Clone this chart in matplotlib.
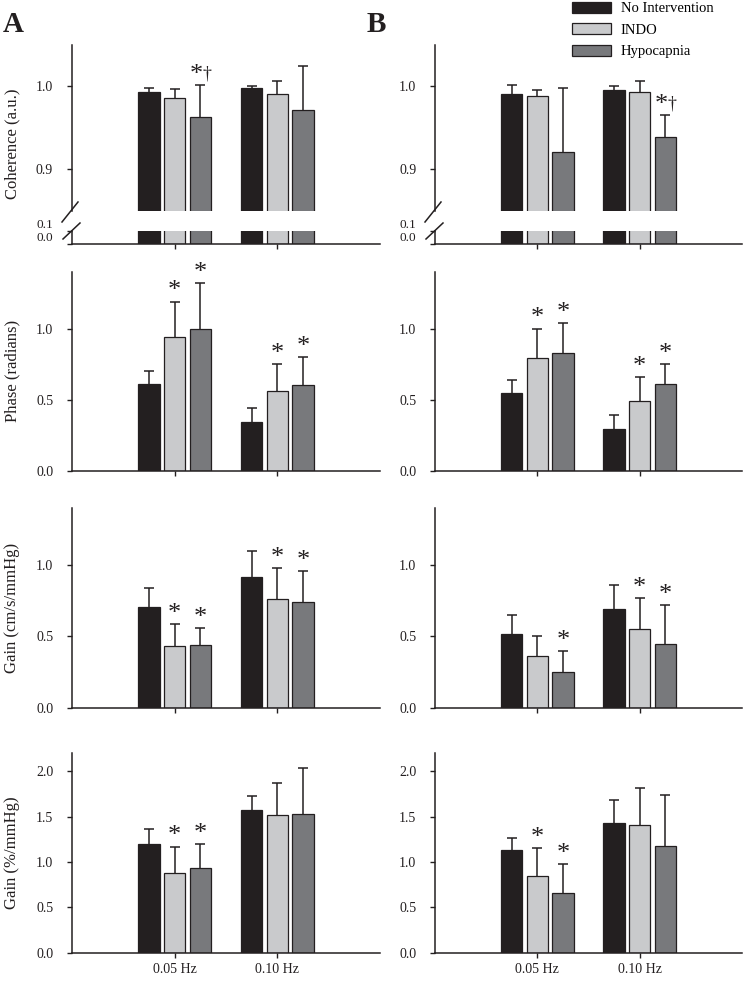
import matplotlib
matplotlib.use("Agg")
import matplotlib.pyplot as plt
from matplotlib.lines import Line2D
from matplotlib.patches import Patch

plt.rcParams['font.family'] = ['Liberation Serif', 'DejaVu Serif']

W, H = 745, 983

conditions = ["No Intervention", "INDO", "Hypocapnia"]
frequencies = ["0.05 Hz", "0.10 Hz"]
bar_colors = ["#231f20", "#c9cacc", "#78797c"]
edge = "#231f20"

# rows = condition, cols = frequency (0.05, 0.10)
coh_a_mean = [[0.993, 0.997], [0.985, 0.990], [0.963, 0.971]]
coh_a_sd = [[0.004, 0.003], [0.011, 0.016], [0.038, 0.053]]
coh_a_marks = [["", ""], ["", ""], ["*\u2020", ""]]

coh_b_mean = [[0.990, 0.995], [0.988, 0.993], [0.920, 0.938]]
coh_b_sd = [[0.011, 0.005], [0.007, 0.013], [0.077, 0.027]]
coh_b_marks = [["", ""], ["", ""], ["", "*\u2020"]]

phase_a_mean = [[0.61, 0.34], [0.94, 0.56], [1.00, 0.60]]
phase_a_sd = [[0.09, 0.10], [0.25, 0.19], [0.32, 0.20]]
phase_a_marks = [["", ""], ["*", "*"], ["*", "*"]]

phase_b_mean = [[0.55, 0.29], [0.79, 0.49], [0.83, 0.61]]
phase_b_sd = [[0.09, 0.10], [0.21, 0.17], [0.21, 0.14]]
phase_b_marks = [["", ""], ["*", "*"], ["*", "*"]]

gain_a_mean = [[0.71, 0.92], [0.43, 0.76], [0.44, 0.74]]
gain_a_sd = [[0.13, 0.18], [0.16, 0.22], [0.12, 0.22]]
gain_a_marks = [["", ""], ["*", "*"], ["*", "*"]]

gain_b_mean = [[0.52, 0.69], [0.36, 0.55], [0.25, 0.45]]
gain_b_sd = [[0.13, 0.17], [0.14, 0.22], [0.15, 0.27]]
gain_b_marks = [["", ""], ["", "*"], ["*", "*"]]

ngain_a_mean = [[1.20, 1.57], [0.88, 1.52], [0.94, 1.53]]
ngain_a_sd = [[0.16, 0.16], [0.29, 0.35], [0.26, 0.51]]
ngain_a_marks = [["", ""], ["*", ""], ["*", ""]]

ngain_b_mean = [[1.13, 1.43], [0.85, 1.41], [0.66, 1.18]]
ngain_b_sd = [[0.14, 0.26], [0.30, 0.41], [0.32, 0.56]]
ngain_b_marks = [["", ""], ["*", ""], ["*", ""]]


def box(x0, x1, y0, y1):
    """pixel box (y from top) -> figure fraction rect"""
    return [x0 / W, 1 - y1 / H, (x1 - x0) / W, (y1 - y0) / H]


def style_ax(ax, bottom=True):
    for s in ['top', 'right']:
        ax.spines[s].set_visible(False)
    ax.spines['left'].set_linewidth(1.1)
    ax.spines['left'].set_color(edge)
    ax.spines['bottom'].set_linewidth(1.1)
    ax.spines['bottom'].set_color(edge)
    ax.tick_params(axis='y', direction='out', length=3.5, width=1, pad=10,
                   labelsize=10, colors=edge)
    ax.tick_params(axis='x', direction='out', length=3.5, width=1, pad=4,
                   labelsize=10, colors=edge)
    ax.set_xlim(-1, 2)
    ax.set_xticks(range(len(frequencies)))
    ax.set_xticklabels([])
    if not bottom:
        ax.spines['bottom'].set_visible(False)
        ax.tick_params(axis='x', length=0)


def put_mark(ax, x, y, t):
    kw = dict(textcoords='offset points', ha='center', va='baseline',
              color=edge, annotation_clip=False)
    if "\u2020" in t:
        ax.annotate("*", (x, y), xytext=(-3, 3), fontsize=19, **kw)
        ax.annotate("\u2020", (x, y), xytext=(4.5, 5), fontsize=13, **kw)
    else:
        ax.annotate(t, (x, y), xytext=(0, 3), fontsize=19, **kw)


def draw_bars(ax, means, sds, marks=None, offset=0.25, width=0.21):
    xs = list(range(len(frequencies)))
    for i, cond in enumerate(conditions):
        pos = [x + (i - 1) * offset for x in xs]
        ax.bar(pos, means[i], width=width, color=bar_colors[i], edgecolor=edge,
               linewidth=0.9, zorder=2)
        eb = ax.errorbar(pos, means[i], yerr=[[0] * len(xs), sds[i]], fmt='none',
                         ecolor=edge, elinewidth=1.1, capsize=3.5, capthick=1.1, zorder=1)
        eb[1][0].set_visible(False)  # no cap at the bar top
        if marks is None:
            continue
        for p, m, s, t in zip(pos, means[i], sds[i], marks[i]):
            if t:
                put_mark(ax, p, m + s, t)


fig = plt.figure(figsize=(W / 100, H / 100), dpi=100)

cols = [(72, 380, coh_a_mean, coh_a_sd, coh_a_marks, phase_a_mean, phase_a_sd, phase_a_marks,
         gain_a_mean, gain_a_sd, gain_a_marks, ngain_a_mean, ngain_a_sd, ngain_a_marks),
        (435, 742, coh_b_mean, coh_b_sd, coh_b_marks, phase_b_mean, phase_b_sd, phase_b_marks,
         gain_b_mean, gain_b_sd, gain_b_marks, ngain_b_mean, ngain_b_sd, ngain_b_marks)]

for (x0, x1, cm, cs, ck, pm, ps, pk, gm, gs, gk, nm, ns, nk) in cols:
    # coherence, broken axis
    ax_up = fig.add_axes(box(x0, x1, 44.5, 210.5))
    style_ax(ax_up, bottom=False)
    draw_bars(ax_up, cm, cs, ck)
    ax_up.set_ylim(0.85, 1.05)
    ax_up.set_yticks([0.9, 1.0])
    ax_up.set_yticklabels(["0.9", "1.0"])

    ax_lo = fig.add_axes(box(x0, x1, 231, 244))
    style_ax(ax_lo)
    draw_bars(ax_lo, cm, cs)
    ax_lo.set_ylim(0, 0.1)
    ax_lo.set_yticks([0.0, 0.1])
    ax_lo.set_yticklabels(["0.0", "0.1"], fontsize=9.5)
    for lab in ax_lo.get_yticklabels():
        lab.set_va('bottom')

    # break marks
    for (ax_, ay_, bx_, by_) in [(-10, 222, 6, 202), (-9, 239, 8, 223)]:
        fig.add_artist(Line2D([(x0 + ax_) / W, (x0 + bx_) / W],
                              [1 - ay_ / H, 1 - by_ / H], color=edge, lw=1.1))

    ax_p = fig.add_axes(box(x0, x1, 271.7, 470.7))
    style_ax(ax_p)
    draw_bars(ax_p, pm, ps, pk)
    ax_p.set_ylim(0, 1.4)
    ax_p.set_yticks([0, 0.5, 1.0])
    ax_p.set_yticklabels(["0.0", "0.5", "1.0"])

    ax_g = fig.add_axes(box(x0, x1, 508.3, 707.7))
    style_ax(ax_g)
    draw_bars(ax_g, gm, gs, gk)
    ax_g.set_ylim(0, 1.4)
    ax_g.set_yticks([0, 0.5, 1.0])
    ax_g.set_yticklabels(["0.0", "0.5", "1.0"])

    ax_n = fig.add_axes(box(x0, x1, 753.3, 952.7))
    style_ax(ax_n)
    draw_bars(ax_n, nm, ns, nk)
    ax_n.set_ylim(0, 2.2)
    ax_n.set_yticks([0, 0.5, 1.0, 1.5, 2.0])
    ax_n.set_yticklabels(["0.0", "0.5", "1.0", "1.5", "2.0"])
    ax_n.set_xticklabels(frequencies)

# y labels
ylabels = [("Coherence (a.u.)", 144), ("Phase (radians)", 371),
           ("Gain (cm/s/mmHg)", 608), ("Gain (%/mmHg)", 853)]
for txt, yc in ylabels:
    fig.text(12 / W, 1 - yc / H, txt, rotation=90, ha='center', va='center',
             fontsize=12, color=edge)

# panel letters
fig.text(3 / W, 1 - 32 / H, "A", fontsize=21, fontweight='bold', va='baseline', color=edge)
fig.text(367 / W, 1 - 32 / H, "B", fontsize=21, fontweight='bold', va='baseline', color=edge)

handles = [Patch(facecolor=c, edgecolor=edge, linewidth=0.9) for c in bar_colors]
fig.legend(handles, conditions, loc='upper left', bbox_to_anchor=(572 / W, 1 - 2 / H),
           frameon=False, fontsize=10.5, handlelength=2.7, handleheight=0.75,
           handletextpad=0.65, labelspacing=0.55, borderpad=0, borderaxespad=0)

fig.savefig("out.png", dpi=100)
